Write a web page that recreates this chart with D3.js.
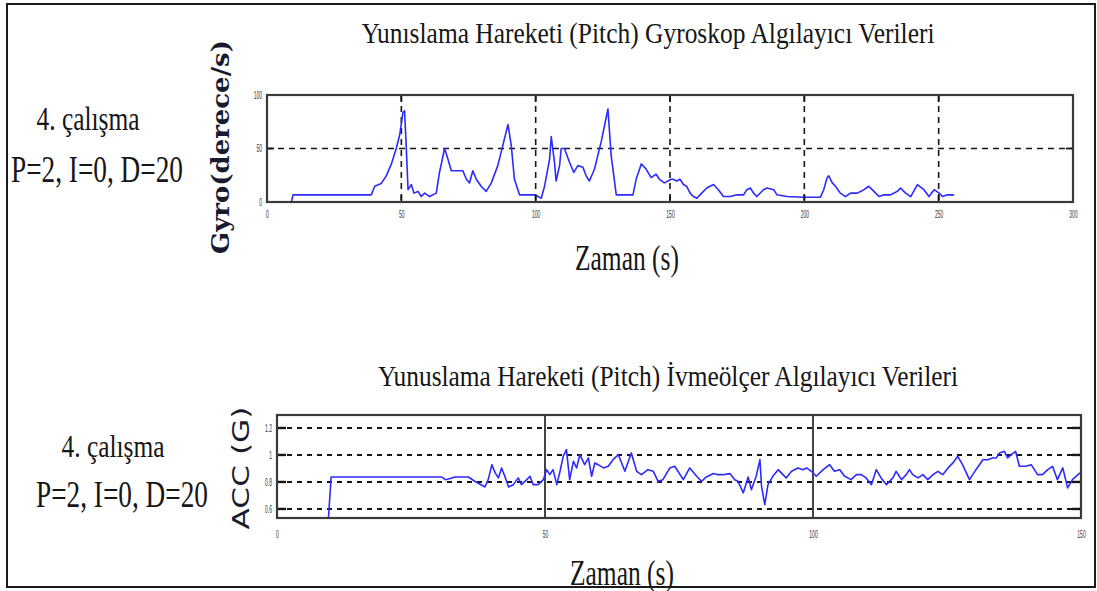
<!DOCTYPE html>
<html>
<head>
<meta charset="utf-8">
<script src="https://cdn.jsdelivr.net/npm/d3@7"></script>
<style>
  body { margin: 0; background: #fff; }
  svg { display: block; }
</style>
</head>
<body>
<svg id="chart" width="1097" height="591"></svg>
<script>
// Pitch gyroscope rate (deg/s) against time (s)
const gyroTime = [0, 9.05, 9.7, 38.8, 40.1, 42.5, 44.4, 46.3, 48.1, 49.4, 50.6, 51.2, 51.8, 52.5, 53.7, 54.7, 56.2, 57.4, 58.7, 60.5, 63.0, 64.2, 66.1, 67.3, 68.6, 72.9, 74.2, 75.4, 76.6, 77.9, 79.7, 81.6, 83.5, 85.9, 87.8, 89.7, 90.9, 92.1, 94.0, 99.6, 102.1, 103.3, 105.2, 105.8, 107.0, 107.6, 108.9, 109.5, 110.7, 112.6, 114.2, 115.7, 117.6, 118.8, 120.0, 121.9, 124.4, 126.9, 128.1, 130.0, 136.2, 137.4, 139.3, 141.1, 143.0, 144.8, 146.1, 147.9, 150.4, 151.2, 152.5, 153.7, 155.0, 156.2, 157.5, 158.7, 160.0, 161.8, 163.7, 166.2, 168.0, 169.9, 172.4, 174.9, 177.4, 178.6, 179.9, 181.1, 182.3, 184.8, 186.1, 188.6, 189.8, 193.5, 199.8, 206.0, 207.2, 208.5, 209.1, 210.4, 211.6, 213.4, 215.3, 217.2, 219.7, 222.2, 224.0, 225.9, 227.8, 229.6, 232.1, 234.6, 235.8, 237.7, 239.6, 242.1, 244.5, 246.4, 248.3, 250.2, 251.4, 253.3, 255.8];
const gyroRate = [0, 0, 6.7, 6.7, 14.7, 17.3, 24.4, 35.6, 50, 62.8, 83.7, 85.3, 53.2, 11.5, 16.3, 8.3, 9.9, 5.1, 8.3, 5.1, 8.3, 27.6, 50, 40.4, 29.2, 29.2, 21.2, 17.9, 29.2, 21.2, 14.7, 9.9, 17.9, 34, 53.2, 72.4, 53.2, 21.2, 6.7, 6.7, 3.5, 14.7, 40.4, 61.2, 37.2, 19.6, 34, 50, 50, 37.2, 27.6, 34, 32.4, 24.4, 19.6, 30.8, 56.4, 86.9, 43.6, 6.7, 6.7, 21.2, 35.6, 30.8, 22.8, 26, 21.2, 17.9, 21.2, 21.2, 19.6, 21.2, 16.3, 14.7, 8.3, 5.1, 3.5, 8.3, 13.1, 16.3, 11.5, 5.1, 5.1, 6.7, 6.7, 11.5, 13.1, 8.3, 5.1, 11.5, 13.1, 11.5, 6.7, 5.1, 4.5, 4.5, 11.5, 22.8, 24.4, 17.9, 14.7, 8.3, 5.1, 8.3, 8.3, 11.5, 14.7, 9.9, 5.1, 6.7, 6.7, 9.9, 13.1, 8.3, 5.1, 16.3, 11.5, 5.1, 11.5, 8.3, 5.1, 6.7, 6.7];

// Pitch accelerometer reading (G) against time (s)
const accTime = [9.6, 10.1, 30.7, 31.4, 32.0, 33.2, 35.7, 36.9, 38.8, 39.4, 40.1, 40.7, 41.3, 41.9, 42.5, 43.2, 44.1, 45.0, 45.6, 46.6, 47.2, 47.8, 48.7, 49.7, 50.3, 50.9, 51.5, 52.2, 52.8, 53.4, 54.0, 54.6, 55.3, 55.9, 56.5, 57.4, 58.1, 58.7, 59.3, 59.9, 60.9, 61.8, 62.7, 63.7, 64.9, 66.1, 67.1, 68.0, 69.2, 70.2, 71.1, 72.0, 73.3, 74.2, 74.8, 75.8, 77.0, 78.3, 79.2, 80.1, 81.4, 82.3, 83.2, 84.5, 85.4, 86.0, 87.0, 87.9, 88.5, 89.4, 90.1, 90.4, 91.0, 91.6, 92.5, 93.5, 94.4, 95.0, 96.0, 97.2, 98.1, 98.8, 99.7, 100.6, 101.9, 103.1, 104.0, 105.0, 105.9, 107.1, 108.1, 109.0, 109.9, 110.9, 111.8, 112.7, 113.7, 114.9, 115.5, 116.5, 117.4, 118.0, 118.6, 119.6, 120.5, 121.4, 122.4, 123.3, 124.2, 125.2, 126.1, 127.0, 127.9, 129.2, 130.4, 131.7, 132.6, 133.5, 134.2, 134.8, 135.7, 136.3, 137.0, 137.8, 138.5, 139.7, 140.7, 141.9, 142.8, 143.8, 144.7, 145.6, 146.6, 147.5, 148.4, 149.8];
const accValue = [0.533, 0.837, 0.837, 0.817, 0.822, 0.837, 0.837, 0.805, 0.763, 0.817, 0.928, 0.867, 0.830, 0.904, 0.842, 0.763, 0.780, 0.830, 0.780, 0.817, 0.842, 0.780, 0.780, 0.817, 0.891, 0.854, 0.891, 0.780, 0.879, 0.990, 1.040, 0.817, 0.953, 0.904, 1.002, 0.928, 0.978, 0.842, 0.941, 0.928, 0.904, 0.916, 0.965, 1.002, 0.879, 1.015, 0.879, 0.854, 0.891, 0.879, 0.805, 0.817, 0.904, 0.916, 0.879, 0.817, 0.904, 0.842, 0.805, 0.837, 0.862, 0.854, 0.854, 0.862, 0.817, 0.805, 0.719, 0.837, 0.743, 0.842, 0.965, 0.768, 0.632, 0.780, 0.842, 0.891, 0.854, 0.830, 0.879, 0.904, 0.891, 0.904, 0.879, 0.842, 0.891, 0.928, 0.879, 0.891, 0.842, 0.817, 0.854, 0.854, 0.830, 0.780, 0.891, 0.830, 0.780, 0.830, 0.879, 0.817, 0.854, 0.891, 0.854, 0.830, 0.854, 0.817, 0.854, 0.879, 0.854, 0.904, 0.941, 0.990, 0.928, 0.817, 0.891, 0.965, 0.965, 0.978, 0.978, 1.015, 1.027, 0.978, 1.002, 1.027, 0.916, 0.916, 0.928, 0.854, 0.854, 0.891, 0.916, 0.817, 0.904, 0.756, 0.817, 0.867];

// Axis ticks
const gyroXTicks = [0, 50, 100, 150, 200, 250, 300];
const gyroYTicks = [0, 50, 100];
const accXTicks = [0, 50, 100, 150];
const accYTicks = [0.6, 0.8, 1, 1.2];

const svg = d3.select("#chart");
const INK = "#161616";
const FRAME = "#3a3a3a";
const LINE = "#2b2bff";

// Outer frame around the whole figure
svg.append("rect")
  .attr("x", 7).attr("y", 4).attr("width", 1088).attr("height", 583)
  .attr("fill", "none").attr("stroke", "#1a1a1a").attr("stroke-width", 2);

// Helper for condensed serif text fitted to a given width
function label(x, y, str, size, width, opts = {}) {
  const t = svg.append("text")
    .attr("x", x).attr("y", y)
    .attr("text-anchor", opts.anchor || "middle")
    .attr("font-family", opts.family || "'Liberation Serif', 'Times New Roman', serif")
    .attr("font-size", size)
    .attr("font-weight", opts.weight || "normal")
    .attr("fill", opts.fill || INK)
    .attr("textLength", width)
    .attr("lengthAdjust", "spacingAndGlyphs")
    .text(str);
  if (opts.rotate) t.attr("transform", `rotate(${opts.rotate},${x},${y})`);
  return t;
}

// Tick label styling: small, narrow digits
function styleTicks(g, sx, dx) {
  g.select(".domain").remove();
  g.selectAll(".tick line").remove();
  g.selectAll(".tick text")
    .attr("font-family", "'Liberation Sans', Arial, sans-serif")
    .attr("font-size", 10)
    .attr("fill", "#333")
    .attr("transform", `translate(${dx},0) scale(${sx},1)`);
}

// ---------- Top panel: gyroscope ----------
const gx = d3.scaleLinear().domain([0, 300]).range([267, 1073]);
const gy = d3.scaleLinear().domain([0, 100]).range([202, 95]);

const gyroPanel = svg.append("g");

// dashed grid
gyroPanel.selectAll(".vgrid").data(gyroXTicks.slice(1, -1)).join("line")
  .attr("x1", d => gx(d)).attr("x2", d => gx(d))
  .attr("y1", gy(100)).attr("y2", gy(0))
  .attr("stroke", INK).attr("stroke-width", 1.6).attr("stroke-dasharray", "6,5");
gyroPanel.selectAll(".hgrid").data(gyroYTicks.slice(1, -1)).join("line")
  .attr("x1", gx(0)).attr("x2", gx(300))
  .attr("y1", d => gy(d)).attr("y2", d => gy(d))
  .attr("stroke", INK).attr("stroke-width", 1.6).attr("stroke-dasharray", "6,5");

// data line
gyroPanel.append("path")
  .datum(gyroTime.map((t, i) => [t, gyroRate[i]]))
  .attr("fill", "none").attr("stroke", LINE).attr("stroke-width", 1.6)
  .attr("stroke-linejoin", "round")
  .attr("d", d3.line().x(d => gx(d[0])).y(d => gy(d[1])));

// inner tick marks
const gTickLen = 7;
gyroPanel.selectAll(".tb").data(gyroXTicks.slice(1, -1)).join("line")
  .attr("x1", d => gx(d)).attr("x2", d => gx(d))
  .attr("y1", gy(0)).attr("y2", gy(0) - gTickLen)
  .attr("stroke", INK).attr("stroke-width", 1.8);
gyroPanel.selectAll(".tt").data(gyroXTicks.slice(1, -1)).join("line")
  .attr("x1", d => gx(d)).attr("x2", d => gx(d))
  .attr("y1", gy(100)).attr("y2", gy(100) + gTickLen)
  .attr("stroke", INK).attr("stroke-width", 1.8);
gyroPanel.selectAll(".tl").data(gyroYTicks.slice(1, -1)).join("line")
  .attr("x1", gx(0)).attr("x2", gx(0) + gTickLen)
  .attr("y1", d => gy(d)).attr("y2", d => gy(d))
  .attr("stroke", INK).attr("stroke-width", 1.8);
gyroPanel.selectAll(".tr").data(gyroYTicks.slice(1, -1)).join("line")
  .attr("x1", gx(300)).attr("x2", gx(300) - gTickLen)
  .attr("y1", d => gy(d)).attr("y2", d => gy(d))
  .attr("stroke", INK).attr("stroke-width", 1.8);

// frame
gyroPanel.append("rect")
  .attr("x", gx(0)).attr("y", gy(100))
  .attr("width", gx(300) - gx(0)).attr("height", gy(0) - gy(100))
  .attr("fill", "none").attr("stroke", FRAME).attr("stroke-width", 2.2);

svg.append("g").attr("transform", `translate(0,${gy(0)})`)
  .call(d3.axisBottom(gx).tickValues(gyroXTicks).tickSize(0).tickPadding(9))
  .call(g => styleTicks(g, 0.5, 0));
svg.append("g").attr("transform", `translate(${gx(0)},0)`)
  .call(d3.axisLeft(gy).tickValues(gyroYTicks).tickSize(0).tickPadding(6))
  .call(g => styleTicks(g, 0.5, -2));

// titles and labels
label(648, 43, "Yunıslama Hareketi (Pitch) Gyroskop Algılayıcı Verileri", 29, 573);
label(627, 270, "Zaman (s)", 36, 104);
label(88, 130, "4. çalışma", 33, 103);
label(97, 182, "P=2, I=0, D=20", 37, 172);
label(229, 147, "Gyro(derece/s)", 25, 214,
  { family: "'DejaVu Serif', serif", weight: "bold", fill: "#1a1a2e", rotate: -90 });

// ---------- Bottom panel: accelerometer ----------
const ax = d3.scaleLinear().domain([0, 150]).range([277, 1081]);
const ay = d3.scaleLinear().domain([0.533, 1.296]).range([518, 415]);

const accPanel = svg.append("g");

accPanel.selectAll(".hgrid").data(accYTicks).join("line")
  .attr("x1", ax(0)).attr("x2", ax(150))
  .attr("y1", d => ay(d)).attr("y2", d => ay(d))
  .attr("stroke", INK).attr("stroke-width", 2).attr("stroke-dasharray", "5,5");
accPanel.selectAll(".vgrid").data(accXTicks.slice(1, -1)).join("line")
  .attr("x1", d => ax(d)).attr("x2", d => ax(d))
  .attr("y1", ay(1.296)).attr("y2", ay(0.533))
  .attr("stroke", INK).attr("stroke-width", 1.6);

// data line, clipped to the plot area
svg.append("clipPath").attr("id", "accClip")
  .append("rect")
  .attr("x", ax(0)).attr("y", ay(1.296))
  .attr("width", ax(150) - ax(0)).attr("height", ay(0.533) - ay(1.296));
accPanel.append("path")
  .datum(accTime.map((t, i) => [t, accValue[i]]))
  .attr("clip-path", "url(#accClip)")
  .attr("fill", "none").attr("stroke", LINE).attr("stroke-width", 1.6)
  .attr("stroke-linejoin", "round")
  .attr("d", d3.line().x(d => ax(d[0])).y(d => ay(d[1])));

// inner tick marks on left and right edges
const aTickLen = 9;
accPanel.selectAll(".tl").data(accYTicks).join("line")
  .attr("x1", ax(0)).attr("x2", ax(0) + aTickLen)
  .attr("y1", d => ay(d)).attr("y2", d => ay(d))
  .attr("stroke", INK).attr("stroke-width", 2.4);
accPanel.selectAll(".tr").data(accYTicks).join("line")
  .attr("x1", ax(150)).attr("x2", ax(150) - aTickLen)
  .attr("y1", d => ay(d)).attr("y2", d => ay(d))
  .attr("stroke", INK).attr("stroke-width", 2.4);

accPanel.append("rect")
  .attr("x", ax(0)).attr("y", ay(1.296))
  .attr("width", ax(150) - ax(0)).attr("height", ay(0.533) - ay(1.296))
  .attr("fill", "none").attr("stroke", FRAME).attr("stroke-width", 2.2);

svg.append("g").attr("transform", `translate(0,${ay(0.533)})`)
  .call(d3.axisBottom(ax).tickValues(accXTicks).tickSize(0).tickPadding(13))
  .call(g => styleTicks(g, 0.5, 0));
svg.append("g").attr("transform", `translate(${ax(0)},0)`)
  .call(d3.axisLeft(ay).tickValues(accYTicks).tickFormat(d3.format("~g")).tickSize(0).tickPadding(6))
  .call(g => styleTicks(g, 0.5, -2));

label(668, 386, "Yunuslama Hareketi (Pitch) İvmeölçer Algılayıcı Verileri", 29, 580);
label(622, 585, "Zaman (s)", 36, 104);
label(113, 457, "4. çalışma", 32, 103);
label(122, 507, "P=2, I=0, D=20", 37, 172);
label(249, 468, "ACC (G)", 23, 123,
  { family: "'DejaVu Sans', sans-serif", fill: "#1a1a2e", rotate: -90 });
</script>
</body>
</html>
